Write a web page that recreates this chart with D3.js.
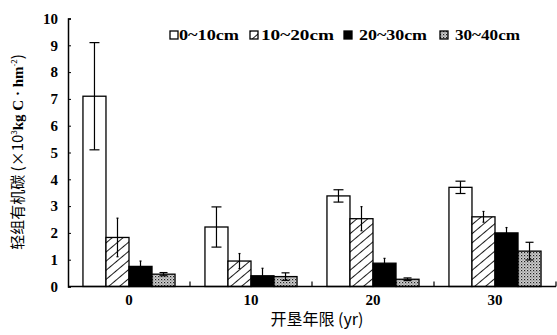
<!DOCTYPE html>
<html>
<head>
<meta charset="utf-8">
<script src="https://cdn.jsdelivr.net/npm/d3@7"></script>
<style>
  body { margin: 0; background: #fff; }
  text { fill: #000; }
</style>
</head>
<body>
<svg id="chart"></svg>
<script>
// reclamation years
const categories = ["0", "10", "20", "30"];
// soil depth layers
const series = ["0~10cm", "10~20cm", "20~30cm", "30~40cm"];
// light fraction organic carbon, one array per depth
const depth0_10 = [7.1, 2.22, 3.38, 3.7];
const depth10_20 = [1.83, 0.95, 2.53, 2.6];
const depth20_30 = [0.75, 0.4, 0.87, 2.0];
const depth30_40 = [0.46, 0.37, 0.27, 1.32];
// error bars (+/-)
const err0_10 = [2.0, 0.75, 0.23, 0.23];
const err10_20 = [0.72, 0.28, 0.45, 0.2];
const err20_30 = [0.2, 0.28, 0.18, 0.2];
const err30_40 = [0.06, 0.14, 0.05, 0.33];
const yTicks = [0, 1, 2, 3, 4, 5, 6, 7, 8, 9, 10];

const values = [depth0_10, depth10_20, depth20_30, depth30_40];
const errors = [err0_10, err10_20, err20_30, err30_40];

const width = 557, height = 335;
const margin = { top: 18.5, right: 1, bottom: 48.5, left: 68 };

const svg = d3.select("#chart").attr("width", width).attr("height", height);

// fill patterns
const defs = svg.append("defs");
const hatch = defs.append("pattern")
  .attr("id", "hatch").attr("patternUnits", "userSpaceOnUse")
  .attr("width", 7).attr("height", 7)
  .attr("patternTransform", "rotate(50)");
hatch.append("rect").attr("width", 7).attr("height", 7).attr("fill", "#fff");
hatch.append("line").attr("x1", 0).attr("y1", 0).attr("x2", 0).attr("y2", 7)
  .attr("stroke", "#000").attr("stroke-width", 1.8);

const dots = defs.append("pattern")
  .attr("id", "dots").attr("patternUnits", "userSpaceOnUse")
  .attr("width", 3).attr("height", 3);
dots.append("rect").attr("width", 3).attr("height", 3).attr("fill", "#cfcfcf");
dots.append("rect").attr("x", 0).attr("y", 0).attr("width", 1.2).attr("height", 1.2).attr("fill", "#222");
dots.append("rect").attr("x", 1.5).attr("y", 1.5).attr("width", 1).attr("height", 1).attr("fill", "#555");

const fills = ["#fff", "url(#hatch)", "#000", "url(#dots)"];
const capW = [10, 2, 2, 8];

const x0 = d3.scaleBand()
  .domain(categories)
  .range([margin.left, width - margin.right]);

const x1 = d3.scaleBand()
  .domain(series)
  .range([0, x0.bandwidth()])
  .paddingOuter(0.65);

const y = d3.scaleLinear()
  .domain([0, 10])
  .range([height - margin.bottom, margin.top]);

const cells = (c, ci) => series.map((s, si) => ({ s, si, v: values[si][ci], e: errors[si][ci] }));

// bars
const groups = svg.append("g").selectAll("g")
  .data(categories)
  .join("g")
  .attr("transform", d => `translate(${x0(d)},0)`);

groups.selectAll("rect")
  .data(cells)
  .join("rect")
  .attr("x", d => x1(d.s))
  .attr("y", d => y(d.v))
  .attr("width", x1.bandwidth())
  .attr("height", d => y(0) - y(d.v))
  .attr("fill", d => fills[d.si])
  .attr("stroke", "#000")
  .attr("stroke-width", 1.3);

// error bars
const eb = groups.selectAll("g.err")
  .data(cells)
  .join("g")
  .attr("class", "err")
  .attr("stroke", "#000")
  .attr("stroke-width", 1.2);

const cx = d => x1(d.s) + x1.bandwidth() / 2;
eb.append("line")
  .attr("x1", cx).attr("x2", cx)
  .attr("y1", d => y(d.v + d.e))
  .attr("y2", d => y(d.v - d.e));
eb.append("line")
  .attr("x1", d => cx(d) - capW[d.si] / 2)
  .attr("x2", d => cx(d) + capW[d.si] / 2)
  .attr("y1", d => y(d.v + d.e))
  .attr("y2", d => y(d.v + d.e));
eb.append("line")
  .attr("x1", d => cx(d) - capW[d.si] / 2)
  .attr("x2", d => cx(d) + capW[d.si] / 2)
  .attr("y1", d => y(d.v - d.e))
  .attr("y2", d => y(d.v - d.e));

// Y axis
const yAxis = svg.append("g")
  .attr("transform", `translate(${margin.left},0)`)
  .call(d3.axisRight(y).tickValues(yTicks).tickSize(3).tickFormat(d3.format("d")));
yAxis.select(".domain").attr("stroke-width", 1.5);
yAxis.selectAll(".tick text")
  .attr("x", -10)
  .attr("text-anchor", "end")
  .attr("font-family", "'Liberation Serif', serif")
  .attr("font-weight", "bold")
  .attr("font-size", 15);

// X axis: ticks point up at category boundaries
const xAxis = svg.append("g")
  .attr("transform", `translate(0,${y(0)})`);
xAxis.append("line")
  .attr("x1", margin.left).attr("x2", width - margin.right)
  .attr("stroke", "#000").attr("stroke-width", 1.5);
xAxis.selectAll("line.tk")
  .data(categories)
  .join("line")
  .attr("class", "tk")
  .attr("x1", d => x0(d) + x0.bandwidth())
  .attr("x2", d => x0(d) + x0.bandwidth())
  .attr("y1", 0).attr("y2", -5)
  .attr("stroke", "#000").attr("stroke-width", 1.2);
xAxis.selectAll("text")
  .data(categories)
  .join("text")
  .attr("x", d => x0(d) + x0.bandwidth() / 2)
  .attr("y", 18)
  .attr("text-anchor", "middle")
  .attr("font-family", "'Liberation Serif', serif")
  .attr("font-weight", "bold")
  .attr("font-size", 15)
  .text(d => d);

// axis titles
svg.append("text")
  .attr("x", 317).attr("y", 325)
  .attr("text-anchor", "middle")
  .attr("font-family", "'Noto Sans CJK SC', sans-serif")
  .attr("font-size", 16)
  .text("开垦年限 (yr)");

const yt = svg.append("text")
  .attr("transform", "translate(23,152) rotate(-90)")
  .attr("text-anchor", "middle")
  .attr("font-family", "'Noto Sans CJK SC', 'Liberation Serif', sans-serif")
  .attr("font-size", 15);
yt.append("tspan").text("轻组有机碳 (×10");
yt.append("tspan").attr("font-size", 8).attr("dy", -6).text("3");
yt.append("tspan").attr("dy", 6).attr("font-family", "'Liberation Serif', serif").attr("font-weight", "bold").text("kg C · hm");
yt.append("tspan").attr("font-size", 8).attr("dy", -6).text("-2");
yt.append("tspan").attr("dy", 6).text(")");

// legend
const legX = [170, 250, 344, 440];
const legGap = [9, 11, 15, 15];
const legW = [60, 73, 68, 65];
const leg = svg.append("g").selectAll("g")
  .data(series)
  .join("g")
  .attr("transform", (d, i) => `translate(${legX[i]},31)`);
leg.append("rect")
  .attr("width", 8).attr("height", 8)
  .attr("fill", (d, i) => fills[i])
  .attr("stroke", "#000").attr("stroke-width", 1.3);
leg.append("text")
  .attr("x", (d, i) => legGap[i])
  .attr("y", 9)
  .attr("font-family", "'Liberation Serif', serif")
  .attr("font-weight", "bold")
  .attr("font-size", 14)
  .attr("textLength", (d, i) => legW[i])
  .attr("lengthAdjust", "spacingAndGlyphs")
  .text(d => d);
</script>
</body>
</html>
